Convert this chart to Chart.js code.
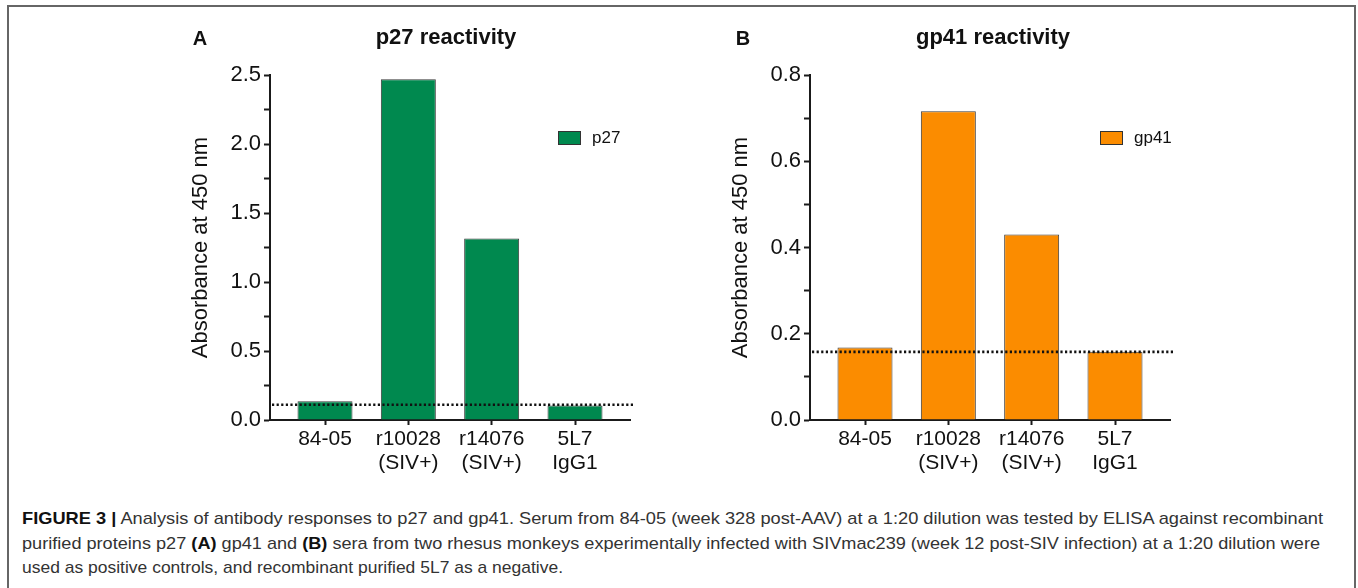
<!DOCTYPE html>
<html><head><meta charset="utf-8">
<script src="https://cdn.jsdelivr.net/npm/chart.js@4"></script>
<style>
body{margin:0;background:#fff;width:1358px;height:588px;overflow:hidden;position:relative;font-family:"Liberation Sans",Arial,sans-serif;}
#frame{position:absolute;left:7px;top:5px;width:1345px;height:640px;border:2px solid #666;border-bottom:none;}
.panel{position:absolute;top:0;}
.lbl{position:absolute;font-weight:bold;font-size:20px;color:#111;transform:translate(-50%,-50%);white-space:nowrap;}
.ttl{position:absolute;font-weight:bold;font-size:22px;color:#111;transform:translate(-50%,-50%);white-space:nowrap;}
.leg{position:absolute;display:flex;align-items:center;height:14px;font-size:17px;color:#111;}
.sw{width:21px;height:12px;border:1px solid #333;margin-right:11px;}
.cap{position:absolute;left:22px;font-size:17px;line-height:20px;color:#333;white-space:nowrap;transform-origin:left center;}
.cap b{color:#111;}
</style>
</head><body>
<div id="frame"></div>
<canvas id="cA" class="panel" style="left:0" width="680" height="480"></canvas>
<canvas id="cB" class="panel" style="left:680px" width="678" height="480"></canvas>
<div class="lbl" style="left:200px;top:38px">A</div>
<div class="ttl" style="left:446px;top:37px">p27 reactivity</div>
<div class="lbl" style="left:743px;top:38px">B</div>
<div class="ttl" style="left:993px;top:37px">gp41 reactivity</div>
<div class="leg" style="left:558px;top:131px"><div class="sw" style="background:#00894f"></div><span>p27</span></div>
<div class="leg" style="left:1100px;top:131px"><div class="sw" style="background:#fb8c00"></div><span>gp41</span></div>
<div class="cap" id="cap1" style="top:509px"><b>FIGURE 3 |</b> Analysis of antibody responses to p27 and gp41. Serum from 84-05 (week 328 post-AAV) at a 1:20 dilution was tested by ELISA against recombinant</div>
<div class="cap" id="cap2" style="top:534px">purified proteins p27 <b>(A)</b> gp41 and <b>(B)</b> sera from two rhesus monkeys experimentally infected with SIVmac239 (week 12 post-SIV infection) at a 1:20 dilution were</div>
<div class="cap" id="cap3" style="top:558px">used as positive controls, and recombinant purified 5L7 as a negative.</div>
<script>
// ---- data ----
const categories = [["84-05"], ["r10028", "(SIV+)"], ["r14076", "(SIV+)"], ["5L7", "IgG1"]];
const p27Values = [0.135, 2.47, 1.315, 0.105];
const p27Cutoff = 0.11;
const gp41Values = [0.168, 0.716, 0.43, 0.158];
const gp41Cutoff = 0.158;
const p27YTicks = { max: 2.5, minorStep: 0.25, labelStep: 0.5 };
const gp41YTicks = { max: 0.8, minorStep: 0.1, labelStep: 0.2 };

Chart.defaults.font.family = '"Liberation Sans", Arial, sans-serif';
Chart.defaults.color = '#111';

const cutoffPlugin = {
  id: 'cutoff',
  afterDatasetsDraw(chart, args, opts) {
    const y = chart.scales.y.getPixelForValue(opts.value);
    const ctx = chart.ctx, a = chart.chartArea;
    ctx.save();
    ctx.beginPath();
    ctx.setLineDash([2.2, 2.4]);
    ctx.lineWidth = 2.6;
    ctx.strokeStyle = '#111';
    ctx.moveTo(a.left + 2, y);
    ctx.lineTo(a.right + 4, y);
    ctx.stroke();
    ctx.restore();
  }
};

function makeChart(id, values, cutoff, yt, color, padLeft, padRight) {
  return new Chart(document.getElementById(id), {
    type: 'bar',
    data: {
      datasets: [{
        label: id,
        data: values.map((v, i) => ({ x: i, y: v })),
        backgroundColor: color,
        borderColor: '#3a3a3a',
        borderWidth: 1,
        barPercentage: 0.66,
        categoryPercentage: 1
      }]
    },
    options: {
      responsive: false,
      animation: false,
      devicePixelRatio: 1,
      layout: { padding: { left: padLeft, right: padRight, top: 75, bottom: 0 } },
      plugins: { legend: { display: false }, tooltip: { enabled: false }, cutoff: { value: cutoff } },
      scales: {
        x: {
          type: 'linear',
          offset: false,
          min: -0.66, max: categories.length - 1 + 0.66,
          afterBuildTicks: s => { s.ticks = categories.map((c, i) => ({ value: i })); },
          afterFit: s => { s.height = 60; },
          border: { color: '#1a1a1a', width: 2 },
          grid: { offset: false, drawOnChartArea: false, drawTicks: true, tickLength: 5, tickColor: '#1a1a1a', tickWidth: 2 },
          ticks: {
            autoSkip: false, maxRotation: 0, padding: 2,
            font: { size: 21, lineHeight: 1.15 }, color: '#111',
            callback: v => categories[v]
          }
        },
        y: {
          min: 0, max: yt.max,
          afterFit: s => { s.width = 86; },
          border: { color: '#1a1a1a', width: 2 },
          grid: { drawOnChartArea: false, drawTicks: true, tickLength: 6, tickColor: '#1a1a1a', tickWidth: 2 },
          ticks: {
            stepSize: yt.minorStep, autoSkip: false, maxTicksLimit: 100, padding: 3,
            font: { size: 22 }, color: '#111',
            callback: v => {
              const r = v / yt.labelStep;
              return Math.abs(r - Math.round(r)) < 1e-6 ? v.toFixed(1) : '';
            }
          },
          title: { display: true, text: 'Absorbance at 450 nm', font: { size: 22 }, color: '#111' }
        }
      }
    },
    plugins: [cutoffPlugin]
  });
}

makeChart('cA', p27Values, p27Cutoff, p27YTicks, '#00894f', 184, 50);
makeChart('cB', gp41Values, gp41Cutoff, gp41YTicks, '#fb8c00', 44, 188);

// fit caption lines to the reference line widths
[['cap1', 1301], ['cap2', 1298], ['cap3', 541]].forEach(([id, w]) => {
  const el = document.getElementById(id);
  const nat = el.getBoundingClientRect().width;
  el.style.transform = 'scaleX(' + (w / nat) + ')';
});
</script>
</body></html>
